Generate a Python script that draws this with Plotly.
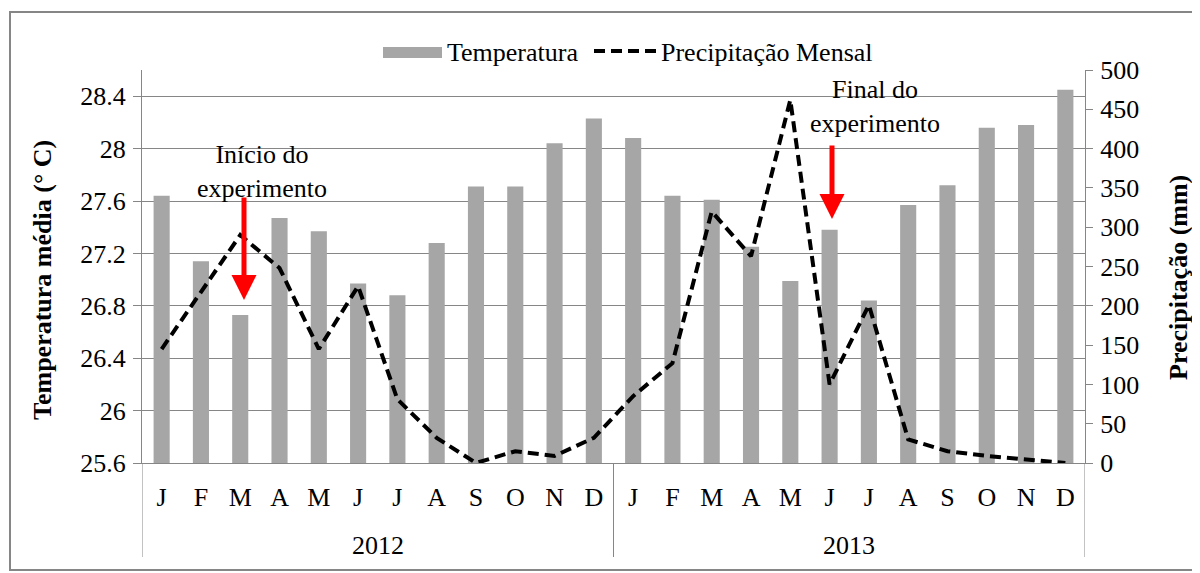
import plotly.graph_objects as go

months = ["J", "F", "M", "A", "M", "J", "J", "A", "S", "O", "N", "D"] * 2
years = ["2012", "2013"]
temperatura = [27.64, 27.14, 26.73, 27.47, 27.37, 26.97, 26.88, 27.28, 27.71, 27.71, 28.04, 28.23,
               28.08, 27.64, 27.61, 27.25, 26.99, 27.38, 26.84, 27.57, 27.72, 28.16, 28.18, 28.45]
precipitacao = [145, 218, 290, 248, 145, 225, 81, 32, 0, 15, 9, 32,
                85, 127, 320, 263, 462, 100, 201, 30, 15, 9, 4, 0]
temp_ticks = [25.6, 26.0, 26.4, 26.8, 27.2, 27.6, 28.0, 28.4]
temp_ticktext = ["25.6", "26", "26.4", "26.8", "27.2", "27.6", "28", "28.4"]

# page is offset by the default 8px body margin
OFF = 8
W, H = 1200 - OFF, 573 - OFF
# plot area in page pixels: x 142..1085, y 70..463
PL, PR, PT, PB = 142, 1085, 70, 463
L, T = PL - OFF, PT - OFF
R, B = W - (PR - OFF), H - (PB - OFF)
pw, ph = PR - PL, PB - PT

def px(xp):
    return (xp - PL) / pw

def py(yp):
    return (PB - yp) / ph

FONT = "Liberation Serif"
GRAY = "#868686"
FS = 26
DASH = "11px,6px"
xs = list(range(len(months)))

fig = go.Figure()
fig.add_trace(go.Bar(x=xs, y=temperatura, name="Temperatura",
                     marker=dict(color="#A6A6A6", line=dict(width=0)), showlegend=False))
fig.add_trace(go.Scatter(x=xs, y=precipitacao, name="Precipitação Mensal", yaxis="y2",
                         mode="lines", line=dict(color="black", width=4, dash=DASH),
                         showlegend=False))

fig.update_layout(
    width=W, height=H,
    margin=dict(l=L, r=R, t=T, b=B),
    paper_bgcolor="white", plot_bgcolor="white",
    font=dict(family=FONT, size=FS, color="black"),
    bargap=0.59,
    xaxis=dict(range=[-0.5, len(months) - 0.5], tickmode="array", tickvals=xs, ticktext=months,
               showgrid=False, zeroline=False, showline=True, linecolor=GRAY, linewidth=1,
               ticks="", tickfont=dict(family=FONT, size=FS), ticklabelstandoff=11),
    yaxis=dict(range=[25.6, 28.6], tickmode="array", tickvals=temp_ticks, ticktext=temp_ticktext,
               showgrid=True, gridcolor=GRAY, gridwidth=1, zeroline=False,
               showline=True, linecolor=GRAY, linewidth=1, ticks="outside", ticklen=8,
               tickcolor=GRAY, tickfont=dict(family=FONT, size=FS), ticklabelstandoff=2),
    yaxis2=dict(range=[0, 500], dtick=50, tick0=0, overlaying="y", side="right",
                showgrid=False, zeroline=False, showline=True, linecolor=GRAY, linewidth=1,
                ticks="outside", ticklen=7, tickcolor=GRAY, tickfont=dict(family=FONT, size=FS),
                ticklabelstandoff=2),
)

annotations = []
# axis titles
annotations.append(dict(text="<b>Temperatura média (° C)</b>", xref="paper", yref="paper",
                        x=px(42), y=py(280), textangle=-90, showarrow=False,
                        font=dict(family=FONT, size=FS), xanchor="center", yanchor="middle"))
annotations.append(dict(text="<b>Precipitação (mm)</b>", xref="paper", yref="paper",
                        x=px(1178), y=py(278), textangle=-90, showarrow=False,
                        font=dict(family=FONT, size=FS), xanchor="center", yanchor="middle"))
# year labels
for i, yr in enumerate(years):
    annotations.append(dict(text=yr, xref="x", yref="paper", x=i * 12 + 5.5, y=py(545),
                            showarrow=False, font=dict(family=FONT, size=FS),
                            xanchor="center", yanchor="middle"))
# legend (drawn manually to get the wide swatch)
annotations.append(dict(text="Temperatura", xref="paper", yref="paper", x=px(445), y=py(53),
                        showarrow=False, font=dict(family=FONT, size=FS),
                        xanchor="left", yanchor="middle"))
annotations.append(dict(text="Precipitação Mensal", xref="paper", yref="paper", x=px(659), y=py(53),
                        showarrow=False, font=dict(family=FONT, size=FS),
                        xanchor="left", yanchor="middle"))
# experiment labels
annotations.append(dict(text="Início do<br>experimento", xref="paper", yref="paper",
                        x=px(262), y=py(171), showarrow=False, font=dict(family=FONT, size=FS),
                        xanchor="center", yanchor="middle"))
annotations.append(dict(text="Final do<br>experimento", xref="paper", yref="paper",
                        x=px(875), y=py(106), showarrow=False, font=dict(family=FONT, size=FS),
                        xanchor="center", yanchor="middle"))
# red arrows
for xa, ytop, ytip in [(244, 196, 300), (832, 144, 219)]:
    annotations.append(dict(text="", xref="paper", yref="paper", x=px(xa), y=py(ytip),
                            axref="pixel", ayref="pixel", ax=0, ay=-(ytip - ytop),
                            showarrow=True, arrowhead=2, arrowsize=1.0, arrowwidth=5,
                            arrowcolor="#FF0000"))
fig.update_layout(annotations=annotations)

shapes = []
# year dividers
for xd in [-0.5, 11.5, 23.5]:
    shapes.append(dict(type="line", xref="x", yref="paper", x0=xd, x1=xd, y0=0, y1=py(557),
                       line=dict(color=GRAY, width=1)))
# legend swatches
shapes.append(dict(type="rect", xref="paper", yref="paper", x0=px(383), x1=px(442),
                   y0=py(58), y1=py(47), fillcolor="#A6A6A6", line=dict(width=0)))
shapes.append(dict(type="line", xref="paper", yref="paper", x0=px(594), x1=px(658),
                   y0=py(51), y1=py(51), line=dict(color="black", width=4, dash=DASH)))
# outer border
shapes.append(dict(type="rect", xref="paper", yref="paper", x0=px(10), x1=px(1194),
                   y0=py(570), y1=py(12), line=dict(color=GRAY, width=2), fillcolor="rgba(0,0,0,0)"))
fig.update_layout(shapes=shapes)

fig.write_html("out.html")
